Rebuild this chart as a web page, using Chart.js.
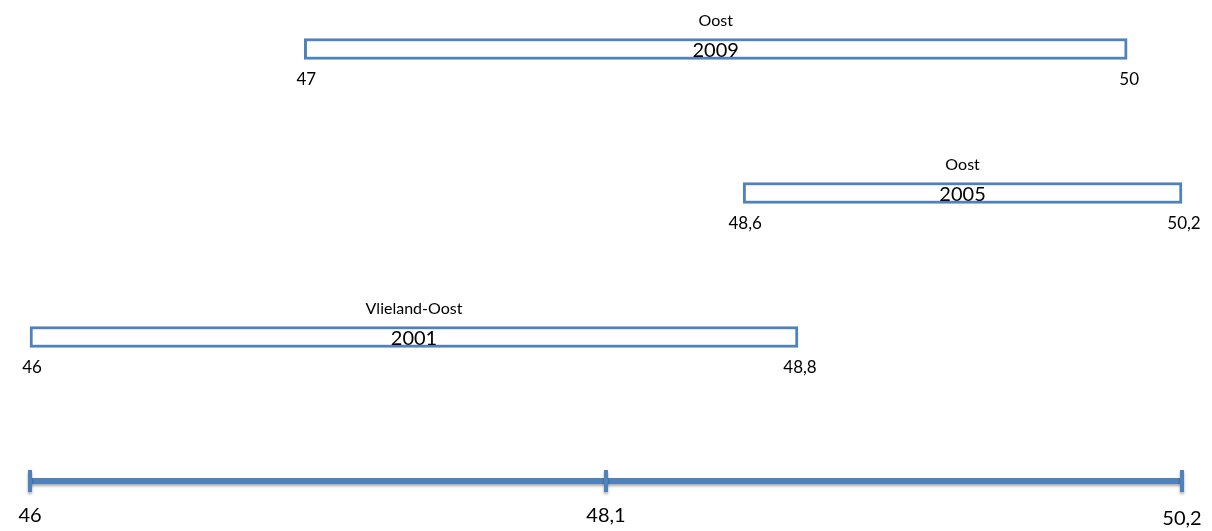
<!DOCTYPE html>
<html><head><meta charset="utf-8">
<script src="https://cdn.jsdelivr.net/npm/chart.js@4/dist/chart.umd.min.js"></script>
<style>html,body{margin:0;padding:0;background:#fff}</style>
</head><body>
<canvas id="c" width="1212" height="531"></canvas>
<script>
// ---- data ----
const years = ['2009', '2005', '2001'];
const regions = ['Oost', 'Oost', 'Vlieland-Oost'];
const startValues = [47, 48.6, 46];
const endValues = [50, 50.2, 48.8];
const axisTicks = [46, 48.1, 50.2];

const BLUE = '#4F81BD';
const FONT = 'Lato, "Open Sans", sans-serif';
const fmt = v => String(v).replace('.', ',');

const rowLabels = years.concat(['']);           // last row holds the scale line
const ranges = startValues.map((s, i) => [s, endValues[i]]).concat([null]);

const labelPlugin = {
  id: 'labels',
  afterDatasetsDraw(chart) {
    const ctx = chart.ctx;
    const xs = chart.scales.x, ys = chart.scales.y;
    const meta = chart.getDatasetMeta(0);
    ctx.save();
    ctx.fillStyle = '#000';
    ctx.textAlign = 'center';
    ctx.textBaseline = 'middle';
    years.forEach((yr, i) => {
      const el = meta.data[i];
      const p = el.getProps(['x', 'y', 'base', 'height'], true);
      const left = Math.min(p.x, p.base), right = Math.max(p.x, p.base);
      const top = p.y - p.height / 2, bottom = p.y + p.height / 2;
      const cx = (left + right) / 2;
      ctx.font = '16px ' + FONT;
      ctx.fillText(regions[i], cx, top - 18);
      ctx.font = '20px ' + FONT;
      ctx.fillText(yr, cx, p.y + 2);
      ctx.font = '17px ' + FONT;
      ctx.fillText(fmt(startValues[i]), left + 2, bottom + 20);
      ctx.fillText(fmt(endValues[i]), right + 2, bottom + 20);
    });
    // scale line
    const ly = ys.getPixelForValue(years.length);
    const x0 = xs.getPixelForValue(axisTicks[0]);
    const x1 = xs.getPixelForValue(axisTicks[axisTicks.length - 1]);
    ctx.strokeStyle = BLUE;
    ctx.shadowColor = 'rgba(0,0,0,0.35)';
    ctx.shadowBlur = 3;
    ctx.shadowOffsetY = 2;
    ctx.lineWidth = 6;
    ctx.beginPath(); ctx.moveTo(x0, ly); ctx.lineTo(x1, ly); ctx.stroke();
    ctx.lineWidth = 4;
    axisTicks.forEach(t => {
      const tx = xs.getPixelForValue(t);
      ctx.beginPath(); ctx.moveTo(tx, ly - 11); ctx.lineTo(tx, ly + 11); ctx.stroke();
    });
    ctx.shadowColor = 'transparent';
    ctx.font = '20px ' + FONT;
    axisTicks.forEach((t, i) => {
      const tx = xs.getPixelForValue(t);
      ctx.fillText(fmt(t), tx, ly + (i === axisTicks.length - 1 ? 38 : 35));
    });
    ctx.restore();
  }
};

new Chart(document.getElementById('c'), {
  type: 'bar',
  data: {
    labels: rowLabels,
    datasets: [{
      data: ranges,
      backgroundColor: '#fff',
      borderColor: BLUE,
      borderWidth: 3,
      borderSkipped: false,
      barThickness: 21,
      clip: false
    }]
  },
  options: {
    indexAxis: 'y',
    responsive: false,
    animation: false,
    layout: { padding: { left: 30, right: 30, top: 49, bottom: 50 } },
    plugins: { legend: { display: false }, tooltip: { enabled: false } },
    scales: {
      x: { type: 'linear', display: false, min: axisTicks[0], max: axisTicks[axisTicks.length - 1] },
      y: { type: 'category', display: false, offset: false }
    }
  },
  plugins: [labelPlugin]
});
</script>
</body></html>
